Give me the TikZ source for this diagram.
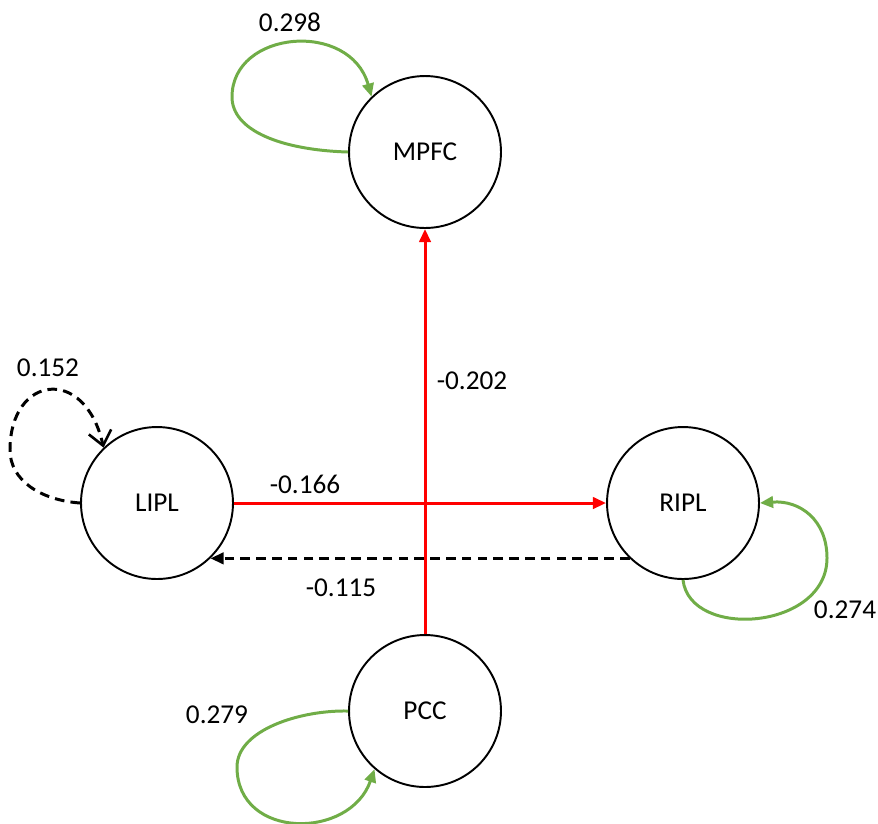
\documentclass[tikz,border=0pt]{standalone}
\usepackage{fontspec}
\setmainfont{Carlito}
\usetikzlibrary{arrows.meta}
\definecolor{loopgreen}{RGB}{112,173,71}
\definecolor{pathred}{RGB}{255,0,0}
\tikzset{
  region/.style={circle, draw=black, line width=1.1pt, minimum size=3.04cm, inner sep=0pt, font=\fontsize{15.5}{18}\selectfont},
  weight/.style={font=\fontsize{15.5}{18}\selectfont, inner sep=0pt},
  poslink/.style={draw=loopgreen, line width=1.7pt, -{Triangle[length=7.5pt,width=6.5pt]}},
  neglink/.style={draw=pathred, line width=1.7pt, -{Triangle[length=7.5pt,width=6.5pt]}},
  dashlink/.style={draw=black, line width=1.7pt, dash pattern=on 5.5pt off 3.5pt},
}
\begin{document}
\begin{tikzpicture}[x=0.02cm, y=-0.02cm]
\useasboundingbox (0,0) rectangle (878,823);

% regions
\node[region] (m) at (425,152) {MPFC};
\node[region] (l) at (157,503) {LIPL};
\node[region] (r) at (683,503) {RIPL};
\node[region] (p) at (425,711) {PCC};

% weights
\node[weight] (wm) at (290,22) {0.298};
\node[weight] (wl) at (48,368) {0.152};
\node[weight] (wpm) at (472,381) {-0.202};
\node[weight] (wlr) at (305,484) {-0.166};
\node[weight] (wrl) at (341,588) {-0.115};
\node[weight] (wr) at (845,610) {0.274};
\node[weight] (wp) at (217,715) {0.279};

% connections between regions
\draw[neglink] (p.north) -- (m.south);
\draw[neglink] (l.east) -- (r.west);
\draw[dashlink, -{Triangle[length=7.5pt,width=6.5pt]}] (r.226) -- (l.314);

% self-connections
\draw[poslink] (m.west) .. controls (280,150) and (232,130) .. (232,97)
  .. controls (232,30) and (350,20) .. (m.134);
\draw[dashlink, -{Straight Barb[length=8pt,width=13pt,line width=1.5pt]}] (l.west) .. controls (40,500) and (10,480) .. (10,450)
  .. controls (10,375) and (85,365) .. (l.134);
\draw[poslink] (r.south) .. controls (690,640) and (827,630) .. (827,558)
  .. controls (827,520) and (800,500) .. (r.east);
\draw[poslink] (p.west) .. controls (300,710) and (237,730) .. (237,767)
  .. controls (237,840) and (350,840) .. (p.229);
\end{tikzpicture}
\end{document}
